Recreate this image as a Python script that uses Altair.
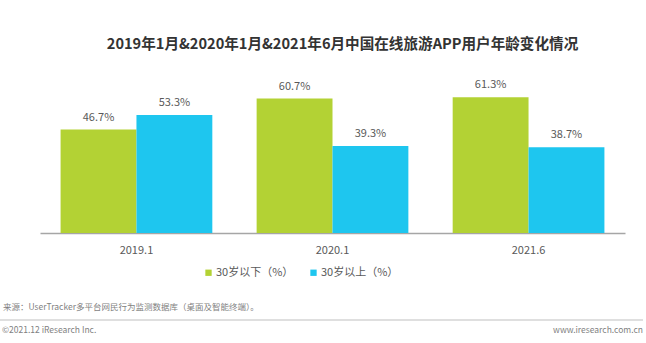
import altair as alt
import pandas as pd

categories = ["2019.1", "2020.1", "2021.6"]
series_names = ["30岁以下（%）", "30岁以上（%）"]
under30 = [46.7, 60.7, 61.3]
over30 = [53.3, 39.3, 38.7]
colors = ["#B3D234", "#1EC6EF"]

rows = []
for i, c in enumerate(categories):
    rows.append({"cat": c, "series": series_names[0], "value": under30[i], "label": f"{under30[i]:.1f}%"})
    rows.append({"cat": c, "series": series_names[1], "value": over30[i], "label": f"{over30[i]:.1f}%"})
df = pd.DataFrame(rows)

FONT = "Noto Sans CJK SC"
W, H = 585, 155

base = alt.Chart(df).encode(
    x=alt.X("cat:N", sort=categories,
            scale=alt.Scale(paddingInner=0.226, paddingOuter=0.105),
            axis=alt.Axis(title=None, labelAngle=0, ticks=False, domainColor="#A6A6A6",
                          domainWidth=1.5, labelFont=FONT, labelFontSize=11,
                          labelColor="#595959", labelPadding=11)),
    xOffset=alt.XOffset("series:N", sort=series_names),
    y=alt.Y("value:Q", scale=alt.Scale(domain=[0, 70]), axis=None),
)

bars = base.mark_bar().encode(
    color=alt.Color("series:N", sort=series_names,
                    scale=alt.Scale(domain=series_names, range=colors),
                    legend=alt.Legend(title=None, orient="none", legendX=163, legendY=189,
                                      direction="horizontal", symbolType="square",
                                      symbolSize=40, symbolStrokeWidth=0,
                                      labelFont=FONT, labelFontSize=11, labelColor="#595959",
                                      columnPadding=14, symbolOffset=0, labelOffset=2)),
)

labels = base.mark_text(dy=-12, font=FONT, fontSize=11, color="#595959").encode(
    text="label:N"
)

src = alt.Chart(pd.DataFrame({"t": ["来源：UserTracker多平台网民行为监测数据库（桌面及智能终端）。"]})).mark_text(
    align="left", baseline="middle", font=FONT, fontSize=8.5, color="#7F7F7F"
).encode(x=alt.value(-37), y=alt.value(229), text="t:N")

rule = alt.Chart(pd.DataFrame({"a": [0]})).mark_rule(color="#BFBFBF", strokeWidth=1).encode(
    x=alt.value(-40), x2=alt.value(603), y=alt.value(242)
)

foot_l = alt.Chart(pd.DataFrame({"t": ["©2021.12 iResearch Inc."]})).mark_text(
    align="left", baseline="middle", font=FONT, fontSize=8.5, color="#7F7F7F"
).encode(x=alt.value(-38), y=alt.value(252), text="t:N")

foot_r = alt.Chart(pd.DataFrame({"t": ["www.iresearch.com.cn"]})).mark_text(
    align="right", baseline="middle", font=FONT, fontSize=8.5, color="#7F7F7F"
).encode(x=alt.value(603), y=alt.value(252), text="t:N")

chart = alt.layer(bars, labels, src, rule, foot_l, foot_r).properties(
    width=W, height=H,
    background="white",
    autosize=alt.AutoSizeParams(type="none"),
    padding={"left": 40, "top": 78, "right": 21, "bottom": 110},
    title=alt.TitleParams(
        "2019年1月&2020年1月&2021年6月中国在线旅游APP用户年龄变化情况",
        font=FONT, fontSize=14.6, fontWeight="bold", color="#333333",
        anchor="middle", dx=10, offset=26,
    ),
).configure_view(strokeWidth=0, stroke="transparent")

chart.save("out.html", embed_options={"renderer": "svg", "actions": False})
